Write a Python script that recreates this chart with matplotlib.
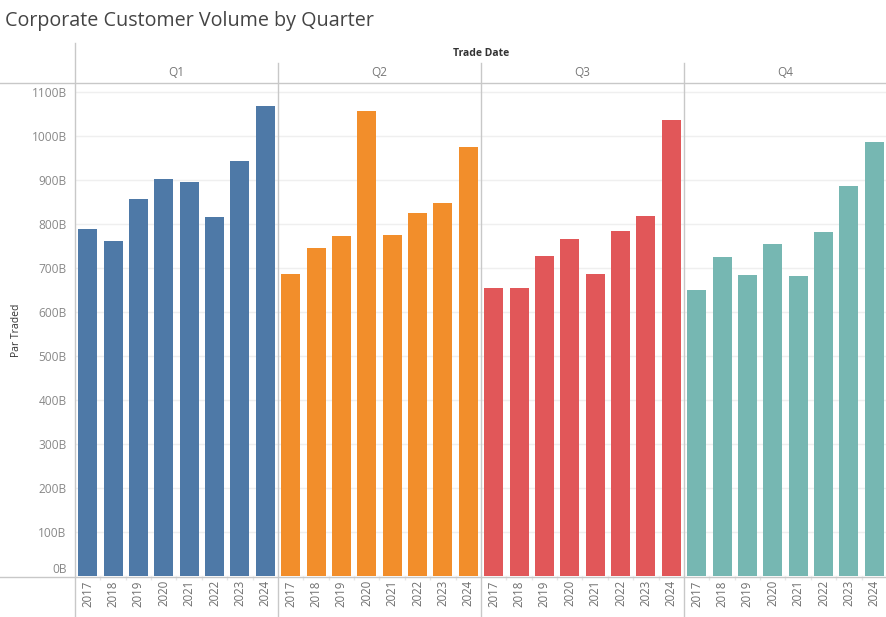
import matplotlib
matplotlib.use("Agg")
import matplotlib.pyplot as plt
from matplotlib.lines import Line2D

quarters = ["Q1", "Q2", "Q3", "Q4"]
years = ["2017", "2018", "2019", "2020", "2021", "2022", "2023", "2024"]
q1 = [789, 761, 857, 902, 895, 816, 943, 1068]
q2 = [686, 745, 773, 1057, 775, 825, 848, 975]
q3 = [655, 655, 727, 766, 686, 784, 818, 1036]
q4 = [650, 725, 684, 755, 682, 782, 886, 986]
colors = ["#4e79a7", "#f28e2b", "#e15759", "#76b7b2"]

plt.rcParams['font.family'] = ['Open Sans', 'DejaVu Sans']

W, H = 887, 617
fig = plt.figure(figsize=(W / 100, H / 100), dpi=100)

def fx(px):
    return px / W

def fy(py):
    return 1 - py / H

top_px, base_px, left_px, panel_px = 83, 576, 75, 203
series = [q1, q2, q3, q4]

for i, vals in enumerate(series):
    ax = fig.add_axes([fx(left_px + i * panel_px), fy(base_px),
                       panel_px / W, (base_px - top_px) / H])
    ax.bar(range(len(years)), vals, width=0.75, color=colors[i], zorder=2)
    ax.set_xlim(-0.5, len(years) - 0.5)
    ax.set_ylim(0, 1120.5)
    for s in ax.spines.values():
        s.set_visible(False)
    ax.set_yticks(range(0, 1200, 100))
    ax.yaxis.grid(True, color="#efefef", lw=1)
    ax.set_axisbelow(True)
    ax.set_xticks(range(len(years)))
    ax.set_xticklabels(years, rotation=90, fontsize=8.3, color="#6e6e6e")
    ax.set_xticks([k + 0.5 for k in range(len(years) - 1)], minor=True)
    ax.tick_params(axis="x", which="major", length=0, pad=3)
    ax.tick_params(axis="x", which="minor", length=3, color="#e6e6e6", width=1)
    if i == 0:
        ax.set_yticklabels([f"{v}B" for v in range(0, 1200, 100)],
                           fontsize=8.6, color="#888888")
        ax.tick_params(axis="y", length=0, pad=6)
        ax.get_yticklabels()[0].set_verticalalignment("bottom")
    else:
        ax.tick_params(axis="y", length=0, labelleft=False)
    fig.text(fx(left_px + i * panel_px + panel_px / 2), fy(73), quarters[i],
             ha="center", va="center", fontsize=8.5, color="#777777")

# frame lines
lc = "#c8c8c8"
fig.add_artist(Line2D([0, 1], [fy(83), fy(83)], color=lc, lw=1, transform=fig.transFigure))
fig.add_artist(Line2D([0, 1], [fy(576.5), fy(576.5)], color=lc, lw=1, transform=fig.transFigure))
fig.add_artist(Line2D([fx(75), fx(75)], [fy(43), 0], color=lc, lw=1, transform=fig.transFigure))
for i in range(1, 4):
    x = fx(left_px + i * panel_px)
    fig.add_artist(Line2D([x, x], [fy(63), 0], color=lc, lw=1, transform=fig.transFigure))

fig.text(fx(5), fy(21), "Corporate Customer Volume by Quarter", ha="left", va="center",
         fontsize=14.2, color="#444444")
fig.text(fx(481), fy(53), "Trade Date", ha="center", va="center", fontsize=7.5,
         fontweight="bold", color="#333333")
fig.text(fx(17), fy(330), "Par Traded", ha="center", va="center", rotation=90,
         fontsize=7.5, color="#333333")

plt.savefig("out.png", dpi=100)
